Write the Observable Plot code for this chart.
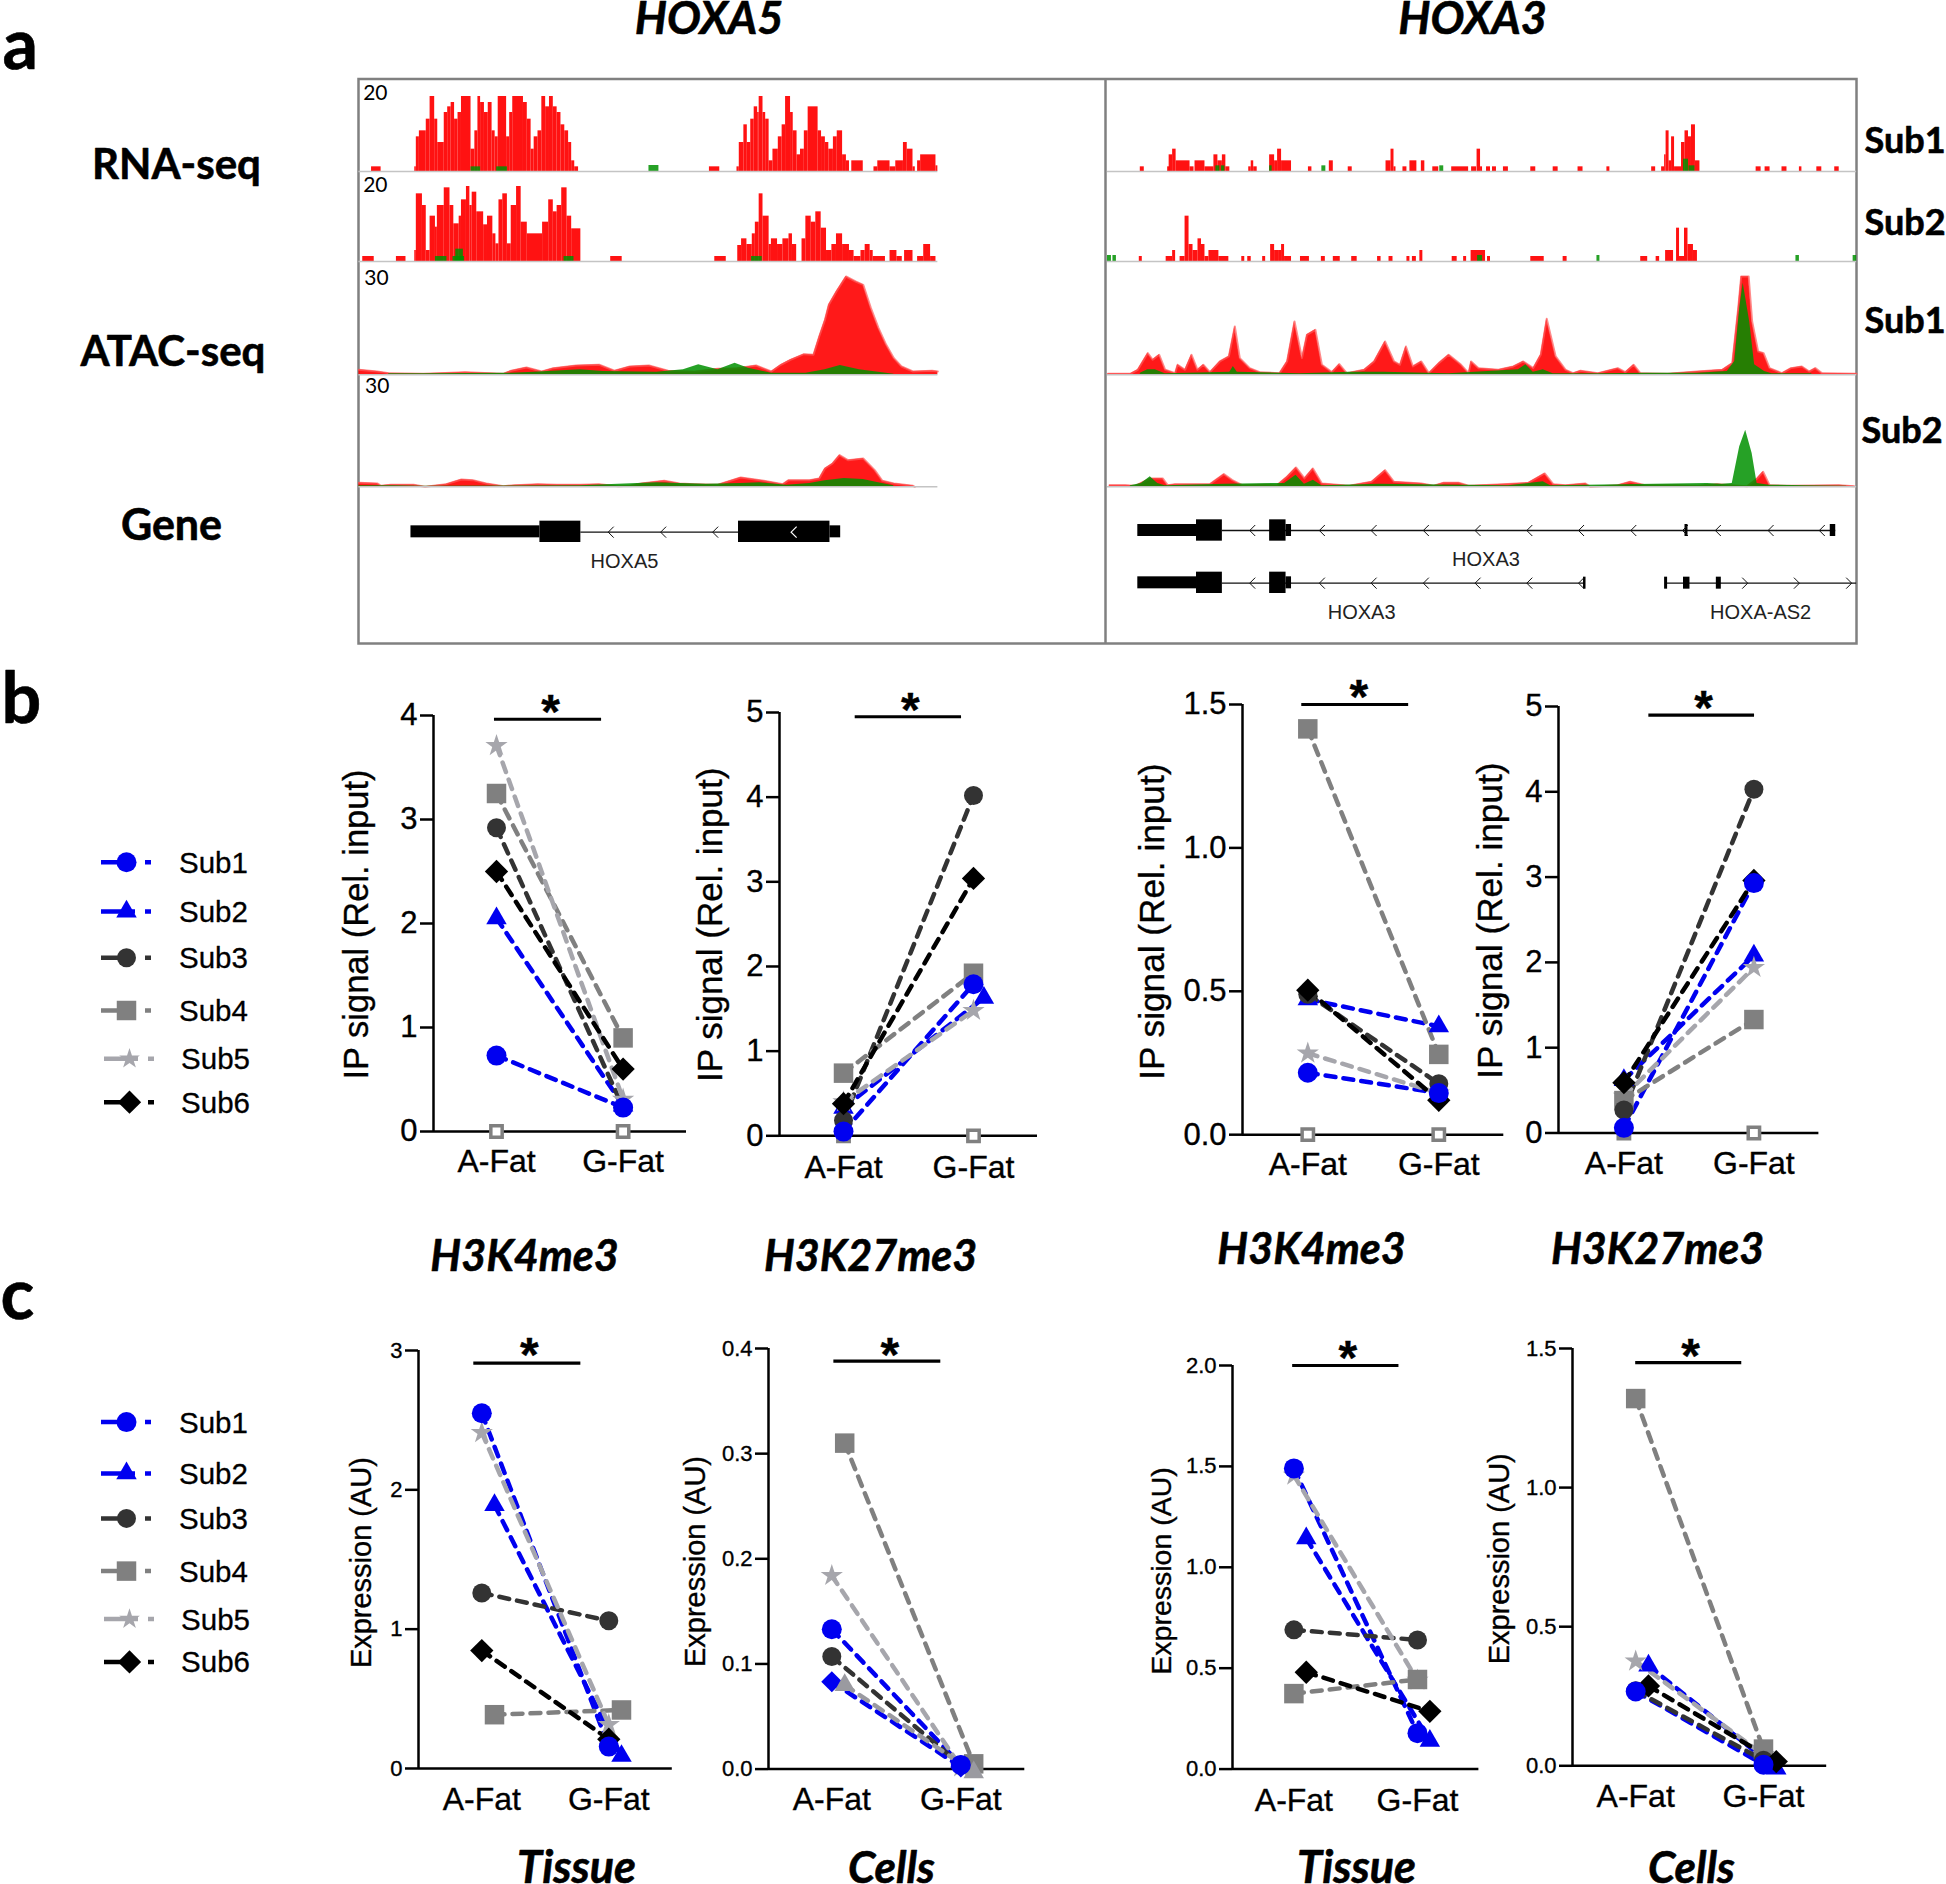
<!DOCTYPE html>
<html><head><meta charset="utf-8">
<style>html,body{margin:0;padding:0;background:#fff}#page{position:relative;width:1946px;height:1884px;overflow:hidden}#page svg{position:absolute;max-width:none;height:auto;overflow:visible}#page svg.pp text{stroke:#000;stroke-width:.35px}</style>
<script src="https://cdn.jsdelivr.net/npm/d3@7"></script>
<script src="https://cdn.jsdelivr.net/npm/@observablehq/plot@0.6"></script>
</head><body><div id="page"></div>
<script>
// ---------- panel b / c data (order Sub1..Sub6) ----------
const subjects = ["Sub1","Sub2","Sub3","Sub4","Sub5","Sub6"];
const categories = ["A-Fat","G-Fat"];
const b1A=[.73,2.05,2.92,3.25,3.71,2.5],  b1G=[.23,.25,.23,.90,.31,.60];
const b2A=[.05,.33,.18,.74,.40,.38],      b2G=[1.79,1.63,4.02,1.92,1.48,3.04];
const b3A=[.216,.472,.49,1.415,.284,.504],b3G=[.145,.378,.178,.28,.145,.12];
const b4A=[.06,.62,.27,.38,.43,.59],      b4G=[2.93,2.08,4.03,1.33,1.94,2.96];
const c1A=[2.55,1.89,1.26,.386,2.41,.846],c1G=[.157,.09,1.06,.42,.315,.21];
const c2A=[.133,.083,.107,.31,.184,.08],  c2G=[.004,.002,.004,.005,.002,-.003];
const c3A=[1.49,1.144,.69,.374,1.456,.48],c3G=[.178,.14,.64,.444,.44,.286];
const c4A=[.267,.36,.27,1.32,.376,.287],  c4G=[.004,-.01,.02,.06,.04,.015];
const none=[0,0,0,0,0,0];
const sideA=[0,.1,0,.1,0,0], sideG2=[0,.1,0,.1,0,0], sideC3=[0,.1,0,0,0,.1], sideC2=[0,0,0,.1,0,.1];

// ---------- panel a data: bars/points read from the browser tracks ----------
const rnaTop1=[[55,80,14],[168,172,14],[172,180,104],[180,198,122],[198,208,157],[208,220,225],[220,228,157],[228,245,87],[245,254,177],[254,263,194],[263,272,207],[272,281,157],[281,290,177],[290,315,225],[315,325,67],[325,333,122],[333,340,225],[340,350,207],[350,360,177],[360,370,207],[370,378,122],[378,386,104],[386,408,225],[408,416,104],[416,424,177],[424,452,225],[452,462,207],[462,472,157],[472,480,67],[480,490,104],[490,500,122],[500,510,225],[510,520,194],[520,530,225],[530,540,194],[540,550,177],[550,560,140],[560,570,122],[570,578,87],[578,586,32],[586,596,14],[938,965,14],[1010,1016,14],[1016,1028,87],[1028,1037,140],[1037,1046,87],[1046,1055,157],[1055,1064,194],[1064,1068,177],[1068,1078,225],[1078,1085,177],[1085,1094,157],[1094,1104,32],[1104,1118,67],[1118,1128,104],[1128,1137,140],[1137,1150,225],[1150,1157,177],[1157,1167,122],[1167,1176,50],[1176,1186,67],[1186,1196,122],[1196,1222,194],[1222,1231,122],[1231,1241,104],[1241,1250,87],[1250,1262,67],[1262,1272,104],[1272,1286,122],[1286,1296,50],[1296,1304,32],[1310,1340,32],[1368,1378,14],[1378,1410,32],[1410,1425,14],[1425,1445,32],[1445,1455,87],[1455,1470,67],[1470,1476,14],[1482,1490,32],[1490,1530,50],[1530,1535,17]];
const rnaTop1Green=[[315,340,14],[382,410,14],[780,806,18]];
const rnaTop2=[[32,62,15],[120,145,15],[168,172,33],[172,188,203],[188,198,168],[198,208,33],[208,222,136],[222,227,103],[227,245,168],[245,260,221],[260,270,168],[270,284,113],[284,290,136],[290,303,185],[303,312,225],[312,318,168],[318,330,208],[330,348,149],[348,358,110],[358,372,136],[372,380,83],[380,388,53],[388,398,185],[398,410,203],[410,420,53],[420,434,168],[434,446,225],[446,462,118],[462,502,83],[502,518,118],[518,530,185],[530,540,149],[540,552,168],[552,566,221],[566,578,136],[578,602,98],[680,710,15],[952,982,15],[1012,1022,48],[1022,1036,68],[1036,1050,51],[1050,1058,83],[1058,1068,118],[1068,1078,203],[1078,1094,136],[1094,1100,51],[1100,1116,68],[1116,1130,51],[1130,1146,68],[1146,1155,83],[1155,1166,51],[1180,1190,68],[1190,1204,136],[1204,1216,118],[1216,1230,149],[1230,1244,100],[1244,1258,33],[1258,1270,51],[1270,1286,83],[1286,1304,51],[1304,1316,33],[1316,1334,15],[1334,1345,33],[1345,1358,51],[1358,1366,33],[1366,1398,15],[1410,1428,33],[1428,1442,15],[1448,1470,33],[1482,1498,15],[1498,1516,51],[1516,1530,15]];
const rnaTop2Green=[[222,252,15],[268,298,15],[275,295,37],[558,584,15],[1048,1076,15]];
const rnaR1=[[80,88,14],[135,140,14],[138,145,50],[145,152,67],[152,180,32],[180,188,14],[190,210,32],[210,228,14],[228,236,50],[236,245,32],[245,252,50],[252,260,14],[298,303,14],[303,308,32],[308,315,14],[340,350,50],[350,356,32],[356,364,67],[364,384,32],[418,425,14],[460,468,32],[498,506,14],[574,584,32],[584,590,67],[590,594,14],[608,616,14],[622,636,32],[645,652,32],[668,680,14],[706,740,14],[746,756,14],[757,764,67],[764,768,14],[776,784,14],[788,796,14],[810,820,14],[865,875,14],[910,920,14],[960,970,14],[1018,1024,14],[1108,1116,14],[1128,1134,14],[1134,1137,50],[1137,1143,122],[1143,1148,32],[1148,1154,104],[1154,1168,14],[1168,1175,87],[1175,1182,122],[1182,1188,104],[1188,1196,140],[1196,1205,32],[1318,1328,14],[1336,1346,14],[1370,1380,14],[1405,1410,14],[1440,1450,14],[1476,1485,14]];
const rnaR1Green=[[232,240,17],[243,250,17],[340,345,17],[445,453,17],[682,690,17],[1172,1182,37],[1183,1195,17]];
const rnaR2=[[78,84,15],[132,145,15],[145,151,33],[160,170,15],[170,178,136],[178,186,51],[186,196,33],[196,203,68],[203,210,51],[210,218,15],[218,238,33],[238,258,15],[284,290,15],[296,303,15],[326,332,15],[342,350,51],[350,358,33],[358,364,33],[364,370,51],[370,384,15],[402,420,15],[444,452,15],[468,482,15],[505,516,15],[557,564,15],[580,588,15],[616,622,15],[627,635,15],[642,648,33],[707,717,15],[730,736,15],[745,774,33],[778,784,15],[865,892,15],[930,938,15],[1086,1100,15],[1117,1124,15],[1136,1152,33],[1158,1164,100],[1164,1174,15],[1174,1181,100],[1181,1192,51],[1192,1200,33]];
const rnaR2Green=[[14,22,18],[25,32,18],[758,768,18],[998,1004,18],[1398,1405,18],[1513,1520,18]];
const atacL1=[[22,15],[70,10],[100,5],[190,3],[230,5],[300,8],[400,3],[420,12],[460,22],[500,10],[530,20],[590,28],[650,30],[690,12],[730,25],[780,28],[830,12],[900,10],[960,18],[1010,20],[1060,28],[1100,10],[1125,30],[1150,45],[1185,62],[1210,60],[1225,115],[1240,165],[1250,210],[1270,250],[1295,295],[1320,280],[1340,270],[1360,200],[1380,140],[1400,90],[1420,50],[1440,25],[1470,10],[1520,12],[1535,10]];
const atacL1Green=[[100,3],[190,3],[420,5],[480,8],[600,15],[660,10],[800,8],[870,15],[910,30],[960,15],[1005,35],[1040,20],[1100,5],[1190,5],[1240,15],[1280,28],[1330,15],[1400,5],[1420,2]];
const atacL2=[[22,12],[70,10],[80,3],[105,6],[165,6],[195,0],[250,8],[290,22],[320,20],[355,10],[400,2],[430,5],[490,8],[540,6],[600,6],[650,8],[700,2],[730,3],[760,10],[820,18],[860,10],[900,8],[960,6],[1020,28],[1080,18],[1130,8],[1145,20],[1200,20],[1225,25],[1240,55],[1260,70],[1278,95],[1300,80],[1340,85],[1370,50],[1390,18],[1420,10],[1470,3],[1475,0]];
const atacL2Green=[[22,3],[110,3],[190,2],[600,3],[800,12],[860,10],[930,8],[1020,10],[1070,12],[1140,5],[1200,10],[1240,18],[1290,25],[1340,22],[1380,12],[1420,3]];
const atacR1=[[15,3],[60,3],[75,15],[95,65],[105,45],[118,60],[130,15],[150,5],[155,30],[170,15],[183,60],[195,15],[207,30],[220,8],[240,40],[258,55],[270,145],[280,50],[300,20],[320,8],[360,5],[375,40],[390,160],[405,50],[415,120],[432,135],[445,30],[465,8],[480,32],[495,5],[530,15],[550,40],[572,100],[590,40],[602,30],[614,85],[628,25],[645,40],[660,5],[680,35],[700,60],[725,30],[740,5],[745,40],[760,20],[800,15],[830,25],[850,40],[870,20],[885,60],[897,168],[915,55],[935,15],[950,5],[965,12],[1000,5],[1040,20],[1055,8],[1072,30],[1085,5],[1140,3],[1200,10],[1250,15],[1270,35],[1282,200],[1288,295],[1303,295],[1310,160],[1322,70],[1333,65],[1345,20],[1370,5],[1388,20],[1410,25],[1425,10],[1437,20],[1450,5],[1520,3]];
const atacR1Green=[[80,5],[95,15],[110,15],[130,3],[260,8],[267,25],[275,8],[400,3],[500,8],[570,8],[700,3],[840,15],[855,30],[870,8],[890,15],[910,3],[1000,3],[1100,5],[1200,5],[1260,10],[1275,40],[1285,200],[1292,275],[1305,160],[1315,30],[1335,10],[1350,3],[1430,3]];
const atacR2=[[18,5],[50,5],[70,3],[100,25],[125,25],[135,5],[150,8],[220,8],[248,38],[265,20],[285,5],[330,6],[355,5],[375,30],[393,58],[410,25],[427,55],[445,10],[500,3],[545,15],[572,50],[590,15],[645,10],[670,3],[690,12],[720,12],[740,3],[810,8],[860,12],[893,40],[910,8],[935,5],[975,10],[985,0],[1040,5],[1065,15],[1095,5],[1160,5],[1200,3],[1240,8],[1270,5],[1300,2],[1320,25],[1332,45],[1345,5],[1380,3],[1485,5],[1515,2]];
const atacR2Green=[[60,3],[82,10],[100,30],[115,10],[130,3],[250,8],[370,10],[393,35],[410,8],[428,20],[445,3],[560,8],[820,3],[890,15],[905,3],[1220,10],[1250,8],[1270,10],[1285,120],[1297,170],[1310,100],[1320,10],[1345,5],[1420,3],[1500,2]];

// gene models: [start, end, lane]
const leftUtr=[[158,495,514],[1253,1281,514]], leftCds=[[495,602,514],[1014,1253,514]], leftIntron=[[602,1014,515]];
const leftChev=[680,817,953], leftChevWhite=[1158];
const rightUtr=[[75,193,510],[373,384,510],[1467,1478,510],[75,193,667],[373,384,667]];
const rightCds=[[193,245,510],[340,373,510],[193,245,667],[340,373,667]];
const rightIntron=[[245,1478,510],[245,975,668],[1136,1520,668]];
const rightMarks=[[1175,1181,510],[971,976,668],[1134,1140,668],[1172,1185,668],[1238,1248,668]];
const rightChevL=[[305,510],[445,510],[549,510],[654,510],[758,510],[862,510],[966,510],[1071,510],[1175,510],[1241,510],[1347,510],[1450,510],[305,668],[445,668],[549,668],[654,668],[758,668],[862,668],[966,668]];
const rightChevR=[[1296,668],[1400,668],[1505,668]];
const leftGeneLabels=[["HOXA5",716,603]];
const rightGeneLabels=[["HOXA3",775,598],["HOXA3",525,755],["HOXA-AS2",1327,755]];

// ---------- styles ----------
const styles=[
 {color:"#0000f0",symbol:"circle",r:10},
 {color:"#0000f0",symbol:"triangle",r:7.6},
 {color:"#333333",symbol:"circle",r:9.5},
 {color:"#808080",symbol:"square",r:11},
 {color:"#a6a6ac",symbol:"star",r:7},
 {color:"#000000",symbol:"diamond2",r:10.5}];
const drawOrder=[1,4,3,2,5,0];
const SANS="'Liberation Sans',Arial,sans-serif", HEAD="Lato,'Open Sans',sans-serif";
const page=document.getElementById("page");
function place(svg,left,top){svg.style.left=left+"px";svg.style.top=top+"px";page.appendChild(svg);return svg;}

// ---------- backdrop: frame, headings, legends ----------
const headings=[
 {t:"a",x:2,y:68,s:70},{t:"b",x:1,y:722,s:70},{t:"c",x:0,y:1318,s:70},
 {t:"RNA-seq",x:176,y:178,s:42,a:"middle"},{t:"ATAC-seq",x:172.5,y:365,s:42,a:"middle"},{t:"Gene",x:171,y:539,s:43,a:"middle"},
 {t:"Sub1",x:1864,y:152,s:36},{t:"Sub2",x:1864,y:234,s:36},{t:"Sub1",x:1864,y:332,s:36},{t:"Sub2",x:1861,y:442,s:36},
 {t:"HOXA5",x:708.6,y:33,s:45,i:1,a:"middle"},{t:"HOXA3",x:1472,y:33,s:45,i:1,a:"middle"},
 {t:"H3K4me3",x:524,y:1270,s:43,i:1,a:"middle"},{t:"H3K27me3",x:870,y:1270,s:43,i:1,a:"middle"},
 {t:"H3K4me3",x:1311,y:1263.5,s:43,i:1,a:"middle"},{t:"H3K27me3",x:1657,y:1263.5,s:43,i:1,a:"middle"},
 {t:"Tissue",x:576,y:1882.5,s:45,i:1,a:"middle"},{t:"Cells",x:891,y:1882.5,s:44,i:1,a:"middle"},
 {t:"Tissue",x:1356,y:1882.5,s:45,i:1,a:"middle"},{t:"Cells",x:1691,y:1882.5,s:44,i:1,a:"middle"}];
const legendRows1=[861.7,911,957.3,1010,1058.3,1101.7], legendRows2=[1421.6,1472.9,1517.9,1570.6,1618.6,1661.4];
function legendMarks(rows){
  return subjects.flatMap((name,i)=>{
    const off=i>=4?3:0, y=rows[i], st=styles[i];
    return [
      Plot.ruleY([y],{x1:101+off,x2:151+off,stroke:st.color,strokeWidth:4.5,strokeDasharray:"34 10 6"}),
      Plot.dot([y],{x:()=>126+off,y:d=>d,symbol:st.symbol,r:st.symbol==="star"?6.5:st.r,fill:st.color}),
      Plot.text([name],{x:()=>178.5+off*.7,y:()=>y+1,text:d=>d,fontFamily:SANS,fontSize:29.5,textAnchor:"start",lineAnchor:"middle",fill:"#000",stroke:"#000",strokeWidth:.3})
    ];
  });
}
place(Plot.plot({
  width:1946,height:1884,margin:0,
  x:{type:"identity",axis:null},y:{type:"identity",axis:null},
  marks:[
    Plot.rect([0],{x1:()=>358.5,x2:()=>1856.5,y1:()=>79,y2:()=>643.5,stroke:"#808080",strokeWidth:2.5,fill:"none"}),
    Plot.ruleX([1105],{y1:()=>80,y2:()=>643,stroke:"#808080",strokeWidth:2.5}),
    ...headings.map(h=>Plot.text([h],{x:"x",y:"y",text:"t",fontFamily:HEAD,fontSize:h.s,fontWeight:700,fontStyle:h.i?"italic":"normal",textAnchor:h.a||"start",lineAnchor:"bottom",fill:"#000",stroke:"#000",strokeWidth:.6})),
    ...legendMarks(legendRows1),...legendMarks(legendRows2)
  ]}),0,0);

// ---------- tracks ----------
const RED="#ff0000", GREEN="#009000";
function track(opts){
  const {left,width,baseline,px,max,xEnd,xStart,bars,barsGreen,pts,ptsGreen,label}=opts;
  const x={domain:[0,1568],range:[0,width],axis:null}, y={domain:[0,max],range:[px,0],axis:null};
  const marks=[];
  if(bars){
    marks.push(Plot.rect(bars,{x1:d=>d[0],x2:d=>d[1],y1:()=>0,y2:d=>d[2],fill:RED,fillOpacity:.93}));
    marks.push(Plot.rect(barsGreen,{x1:d=>d[0],x2:d=>d[1],y1:()=>0,y2:d=>d[2],fill:GREEN,fillOpacity:.85}));
  }
  if(pts){
    marks.push(Plot.areaY(pts,{x:d=>d[0],y:d=>d[1],fill:RED,fillOpacity:.9}));
    marks.push(Plot.lineY(pts,{x:d=>d[0],y:d=>d[1],stroke:"#ff5a5a",strokeWidth:2,strokeOpacity:.7}));
    marks.push(Plot.areaY(ptsGreen,{x:d=>d[0],y:d=>d[1],fill:GREEN,fillOpacity:.85}));
  }
  marks.push(Plot.ruleY([0],{x1:()=>xStart,x2:()=>xEnd,stroke:"#c4c4c4",strokeWidth:1.5}));
  if(label) marks.push(Plot.text([label],{x:()=>label.x,y:()=>max,text:"t",dy:label.dy,fontFamily:HEAD,fontSize:21,textAnchor:"start",lineAnchor:"middle",fill:"#000"}));
  place(Plot.plot({width,height:px+3,marginTop:0,marginBottom:3,marginLeft:0,marginRight:0,x,y,marks}),left,baseline-px);
}
const L={left:350,width:600,xStart:22,xEnd:1535}, R={left:1100,width:780,xStart:14,xEnd:1520};
track({...L,baseline:170.7,px:75,max:225,bars:rnaTop1,barsGreen:rnaTop1Green,label:{t:"20",x:33,dy:-3}});
track({...L,baseline:261,px:75,max:225,bars:rnaTop2,barsGreen:rnaTop2Green,label:{t:"20",x:33,dy:-1}});
track({...L,baseline:374,px:98.3,max:295,pts:atacL1,ptsGreen:atacL1Green,label:{t:"30",x:36,dy:2}});
track({...L,baseline:486.7,px:98.3,max:295,pts:atacL2,ptsGreen:atacL2Green,label:{t:"30",x:38,dy:-2}});
track({...R,baseline:170.7,px:75,max:225,bars:rnaR1,barsGreen:rnaR1Green});
track({...R,baseline:261,px:75,max:225,bars:rnaR2,barsGreen:rnaR2Green});
track({...R,baseline:374,px:98.3,max:295,pts:atacR1,ptsGreen:atacR1Green});
track({...R,baseline:486.7,px:98.3,max:295,pts:atacR2,ptsGreen:atacR2Green});

// ---------- gene models ----------
const chevL={draw(c){c.moveTo(3,-5.5);c.lineTo(-2.5,0);c.lineTo(3,5.5);}};
const chevR={draw(c){c.moveTo(-3,-5.5);c.lineTo(2.5,0);c.lineTo(-3,5.5);}};
function genes(left,width,{utr,cds,intron,marks:tick=[],chevL:cl=[],chevW=[],chevR:cr=[],labels}){
  place(Plot.plot({width,height:300,margin:0,
    x:{domain:[0,1568],range:[0,width],axis:null},y:{domain:[0,900],range:[0,300],axis:null},
    marks:[
      Plot.ruleY(intron,{x1:d=>d[0],x2:d=>d[1],y:d=>d[2],stroke:"#111",strokeWidth:1.4}),
      Plot.rect(utr,{x1:d=>d[0],x2:d=>d[1],y1:d=>d[2]-18,y2:d=>d[2]+18,fill:"#000"}),
      Plot.rect(cds,{x1:d=>d[0],x2:d=>d[1],y1:d=>d[2]-32,y2:d=>d[2]+32,fill:"#000"}),
      Plot.rect(tick,{x1:d=>d[0],x2:d=>d[1],y1:d=>d[2]-18,y2:d=>d[2]+18,fill:"#000"}),
      Plot.dot(cl,{x:d=>d[0],y:d=>d[1],symbol:chevL,r:4,fill:"none",stroke:"#111",strokeWidth:1}),
      Plot.dot(cr,{x:d=>d[0],y:d=>d[1],symbol:chevR,r:4,fill:"none",stroke:"#111",strokeWidth:1}),
      Plot.dot(chevW,{x:d=>d[0],y:d=>d[1],symbol:chevL,r:4,fill:"none",stroke:"#fff",strokeWidth:1.2}),
      Plot.text(labels,{x:d=>d[1],y:d=>d[2],text:d=>d[0],fontFamily:SANS,fontSize:20,fill:"#222",lineAnchor:"middle"})
    ]}),left,360);
}
genes(350,600,{utr:leftUtr,cds:leftCds,intron:leftIntron,chevL:leftChev.map(x=>[x,515]),chevW:leftChevWhite.map(x=>[x,515]),labels:leftGeneLabels});
genes(1100,780,{utr:rightUtr,cds:rightCds,intron:rightIntron,marks:rightMarks,chevL:rightChevL,chevR:rightChevR,labels:rightGeneLabels});

// ---------- paired panels ----------
function panel(p){
  const mL=120,mR=30,mT=60,mB=70;
  const span=p.G-p.A, width=mL+mR+(p.end-p.axisX), height=mT+mB+(p.y0-p.yTop);
  const dom=[(p.axisX-p.A)/span,(p.end-p.A)/span];
  const st=(p.over||[]).length?styles.map((s,i)=>p.over[i]||s):styles;
  const dx=p.titleX-p.axisX, dy=p.titleY-(p.y0+p.yTop)/2;
  const nA=p.nudgeA||none, nG=p.nudgeG||none;
  const rows=i=>[{x:nA[i],y:p.a[i]},{x:1+nG[i],y:p.g[i]}];
  const marks=[
    Plot.axisY({ticks:p.ticks,tickSize:13,tickPadding:3,fontSize:p.tickFont,fontFamily:SANS,strokeWidth:2.5,label:null,tickFormat:p.fmt,fill:"#000",color:"#000"}),
    Plot.axisX({ticks:[0,1],tickSize:0,tickPadding:p.catPad,fontSize:32,fontFamily:SANS,label:null,tickFormat:d=>categories[d],fill:"#000"}),
    Plot.ruleX([dom[0]],{y1:()=>0,y2:()=>p.yMax,stroke:"#000",strokeWidth:2.5}),
    Plot.ruleY([0],{stroke:"#000",strokeWidth:2.5}),
    Plot.text([p.title],{frameAnchor:"left",dx,dy,rotate:-90,text:d=>d,fontFamily:SANS,fontSize:p.titleFont,textAnchor:"middle",lineAnchor:"middle",fill:"#000"}),
    Plot.ruleY([p.sig[2]],{x1:()=>p.sig[0],x2:()=>p.sig[1],stroke:"#000",strokeWidth:3.2}),
    Plot.text(["*"],{x:()=>p.star[0],y:()=>p.star[1],text:d=>d,dy:25,fontFamily:SANS,fontWeight:700,fontSize:48,lineAnchor:"bottom",fill:"#000"})
  ];
  if(p.hollow) marks.push(Plot.dot([0,1],{x:d=>d,y:()=>0,symbol:"square",r:6.4,fill:"#fff",stroke:"#808080",strokeWidth:3.5}));
  subjects.forEach((_,i)=>marks.push(Plot.line(rows(i),{x:"x",y:"y",stroke:st[i].color,strokeWidth:4.5,strokeDasharray:"10 8"})));
  drawOrder.forEach(i=>marks.push(Plot.dot(rows(i),{x:"x",y:"y",symbol:st[i].symbol,r:st[i].r,fill:st[i].color})));
  const svg=Plot.plot({width,height,marginLeft:mL,marginRight:mR,marginTop:mT,marginBottom:mB,
    x:{domain:dom,axis:null},y:{domain:[0,p.yMax],axis:null},marks});
  svg.classList.add("pp");
  place(svg,p.axisX-mL,p.yTop-mT);
}
const f0=d=>d, f1=d=>d.toFixed(1);
const IP="IP signal (Rel. input)", EX="Expression (AU)";
panel({a:b1A,g:b1G,axisX:433,end:686,A:496,G:622.6,y0:1131,yTop:715,yMax:4,ticks:[0,1,2,3,4],fmt:f0,tickFont:31,catPad:18,title:IP,titleFont:34.5,titleX:356,titleY:924,sig:[-.016,.83,3.964],star:[.427,4.125],hollow:1});
panel({a:b2A,g:b2G,nudgeG:[0,.08,0,0,0,0],axisX:779,end:1037,A:843,G:973,y0:1135,yTop:711.7,yMax:5,ticks:[0,1,2,3,4,5],fmt:f0,tickFont:31,catPad:19,title:IP,titleFont:35,titleX:710,titleY:924,sig:[.09,.908,4.95],star:[.515,5.14],hollow:1});
panel({a:b3A,g:b3G,axisX:1241.7,end:1503,A:1307,G:1438,y0:1134,yTop:703.8,yMax:1.5,ticks:[0,.5,1,1.5],fmt:f1,tickFont:31,catPad:18,title:IP,titleFont:35.2,titleX:1152,titleY:921,sig:[-.046,.77,1.5],star:[.39,1.556],hollow:1});
panel({a:b4A,g:b4G,axisX:1557.6,end:1818,A:1623,G:1753,y0:1132,yTop:705.5,yMax:5,ticks:[0,1,2,3,4,5],fmt:f0,tickFont:31,catPad:18,title:IP,titleFont:35.2,titleX:1490,titleY:919.6,sig:[.192,1.005,4.9],star:[.614,5.09],hollow:1});
panel({a:c1A,g:c1G,nudgeA:sideA,nudgeG:sideG2,axisX:417.7,end:671.5,A:481,G:608,y0:1767.5,yTop:1349.5,yMax:3,ticks:[0,1,2,3],fmt:f0,tickFont:22,catPad:18.5,title:EX,titleFont:29,titleX:361,titleY:1561.6,sig:[-.063,.78,2.91],star:[.374,3.03]});
panel({a:c2A,g:c2G,nudgeA:sideC2,nudgeG:sideC2,over:[null,{color:"#0000f0",symbol:"diamond2",r:9.5},null,null,null,{color:"#9a9aa0",symbol:"triangle",r:7.6}],axisX:767.7,end:1024,A:831,G:960,y0:1768.6,yTop:1348,yMax:.4,ticks:[0,.1,.2,.3,.4],fmt:f1,tickFont:22,catPad:18,title:EX,titleFont:29,titleX:695,titleY:1561,sig:[.016,.845,.388],star:[.45,.4025]});
panel({a:c3A,g:c3G,nudgeA:sideC3,nudgeG:sideC3,axisX:1231.6,end:1478,A:1293,G:1416.6,y0:1768.6,yTop:1365,yMax:2,ticks:[0,.5,1,1.5,2],fmt:f1,tickFont:22,catPad:19,title:EX,titleFont:28.5,titleX:1161,titleY:1570.5,sig:[-.01,.85,2],star:[.437,2.08]});
panel({a:c4A,g:c4G,nudgeA:sideC3,nudgeG:sideC3,axisX:1571.8,end:1826,A:1635,G:1762.8,y0:1765,yTop:1347.7,yMax:1.5,ticks:[0,.5,1,1.5],fmt:f1,tickFont:22,catPad:18.5,title:EX,titleFont:29,titleX:1499,titleY:1558,sig:[0,.83,1.449],star:[.43,1.504]});
</script></body></html>
